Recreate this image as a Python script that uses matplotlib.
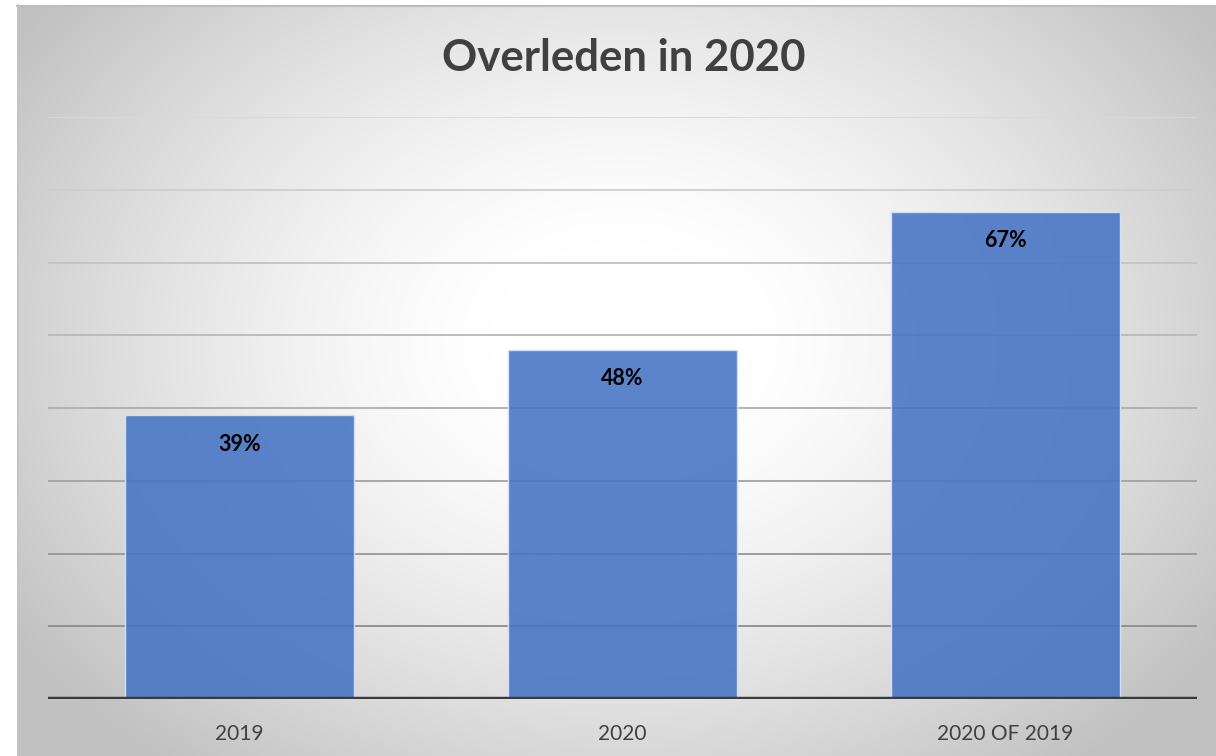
import numpy as np
import matplotlib
matplotlib.use("Agg")
import matplotlib.pyplot as plt

categories = ["2019", "2020", "2020 OF 2019"]
values = [39, 48, 67]
value_labels = ["39%", "48%", "67%"]
title = "Overleden in 2020"
grid_levels = [10, 20, 30, 40, 50, 60, 70, 80]

plt.rcParams['font.family'] = ['Lato', 'DejaVu Sans']

W, H = 1216, 756
fig = plt.figure(figsize=(W / 100, H / 100), dpi=100)
fig.patch.set_facecolor("white")

# background radial gradient panel
bg = fig.add_axes([17 / W, 0, 1 - 17 / W, (H - 5) / H], zorder=0)
bw, bh = W - 17, H - 5
xx, yy = np.meshgrid(np.arange(bw), np.arange(bh))
cx, cy = 620 - 17, 340 - 5
rx, ry = 720, 540
d = np.sqrt(((xx - cx) / rx) ** 2 + ((yy - cy) / ry) ** 2)
t = np.clip((d - 0.18) / 0.82, 0, 1)
b = 1 - 0.24 * t ** 1.35
img = np.dstack([b, b, b])
bg.imshow(img, aspect="auto", extent=[0, bw, bh, 0], interpolation="bilinear")
bg.set_xlim(0, bw)
bg.set_ylim(bh, 0)
bg.axis("off")
fig.add_artist(plt.Line2D([17 / W, 1], [(H - 5.5) / H] * 2, color="#bdbdbd", lw=1.5, transform=fig.transFigure))
fig.add_artist(plt.Line2D([17.5 / W] * 2, [0, (H - 5) / H], color="#c4c4c4", lw=1.2, transform=fig.transFigure))

ax = fig.add_axes([48 / W, 57 / H, (1197 - 48) / W, (699 - 117) / H], zorder=1)
ax.patch.set_alpha(0)
x = np.arange(len(categories))
ax.set_xlim(-0.5, len(categories) - 0.5)
ax.set_ylim(0, 80)

for i, g in enumerate(grid_levels):
    f = (g - 10) / 70
    c = 0.55 + f * 0.30
    ax.axhline(g, color=(c, c, c), lw=1.3, zorder=1)

bars = ax.bar(x, values, width=0.6, color=(0.27, 0.45, 0.77, 0.88),
              edgecolor="#d4def2", linewidth=1.0, zorder=2)
for xi, v, lab in zip(x, values, value_labels):
    ax.annotate(lab, (xi, v), xytext=(0, -21), textcoords="offset points",
                ha="center", va="center", fontsize=15.5, fontweight="bold", color="black", zorder=3)

ax.axhline(0, color="#3a3a3a", lw=3.2, zorder=4)
for s in ax.spines.values():
    s.set_visible(False)
ax.set_yticks([])
ax.set_xticks(x)
ax.set_xticklabels(categories, fontsize=15, color="#404040")
ax.tick_params(axis="x", length=0, pad=18)

fig.text(624 / W, 1 - 58 / H, title, ha="center", va="center", fontsize=31.5,
         fontweight="bold", color="#404040")

fig.savefig("out.png", dpi=100)
